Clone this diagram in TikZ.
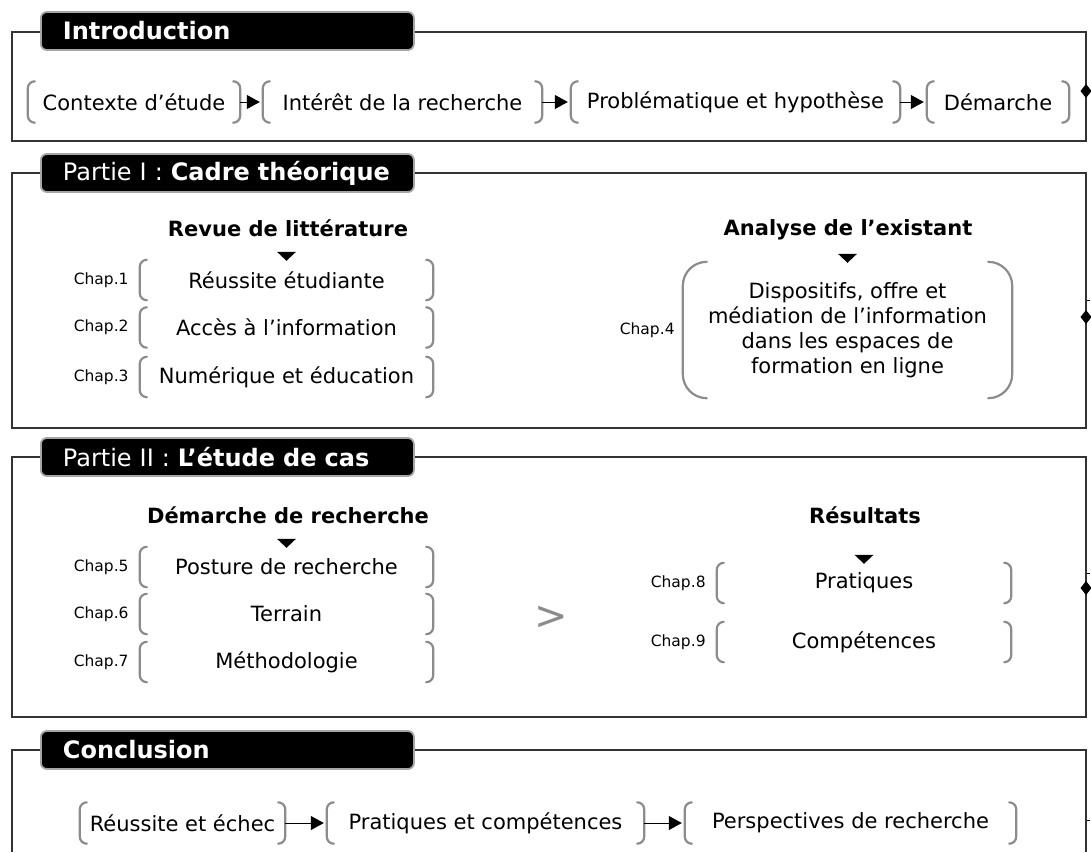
\documentclass[tikz,border=0pt]{standalone}
\usepackage{fontspec}
\setmainfont{DejaVu Sans}
\usetikzlibrary{positioning,arrows.meta}
\definecolor{brkgray}{HTML}{8C8C8C}
\definecolor{tabgray}{HTML}{A6A6A6}
\definecolor{framegray}{HTML}{333333}
\newcommand{\itembrackets}[2][7]{%
	\draw[brkline,rounded corners=#1pt] (#2.north west)++(#1,0)--(#2.north west)--(#2.south west)--++(#1,0);
	\draw[brkline,rounded corners=#1pt] (#2.north east)++(-#1,0)--(#2.north east)--(#2.south east)--++(-#1,0);}
\newcommand{\dropmark}[1]{\fill (#1.north)++(-9.5,-8)--++(19,0)--++(-9.5,9)--cycle;}
\newcommand{\edgemark}[1]{\fill (1086,#1)+(-5.5,0)--+(0,-7)--+(5.5,0)--+(0,7)--cycle;}
\begin{document}
\begin{tikzpicture}[x=1pt,y=-1pt,
		secframe/.style={draw=framegray,line width=1.4pt},
		sectab/.style={fill=black,draw=tabgray,line width=1.8pt,rounded corners=6pt,text=white,anchor=west,
			font=\fontsize{24}{28}\selectfont,minimum height=38pt,text width=329pt,inner xsep=22pt,align=left},
		entry/.style={minimum height=41pt,inner sep=0pt,align=center,font=\fontsize{21}{25}\selectfont},
		chap/.style={inner sep=0pt,font=\fontsize{15.5}{18}\selectfont},
		heading/.style={font=\bfseries\fontsize{21}{25}\selectfont},
		link/.style={-{Triangle[length=13pt,width=14pt]},line width=1pt,shorten >=3pt},
		brkline/.style={draw=brkgray,line width=2.2pt,line cap=round}]
	\useasboundingbox (0,0) rectangle (1091,852);
	% Introduction
	\draw[secframe] (12,32) rectangle (1086,141);
	\node[sectab] (intro) at (40,31) {\textbf{Introduction}};
	\node[entry,minimum width=212pt] (ctx) at (134,102) {Contexte d’étude};
	\node[entry,minimum width=279pt] (inter) at (402.5,102) {Intérêt de la recherche};
	\node[entry,minimum width=329pt] (pb) at (735.5,102) {Problématique et hypothèse};
	\node[entry,minimum width=142pt] (dem) at (998,102) {Démarche};
	\itembrackets{ctx}\itembrackets{inter}\itembrackets{pb}\itembrackets{dem}
	\draw[link] (ctx)--(inter);
	\draw[link] (inter)--(pb);
	\draw[link] (pb)--(dem);
	% Partie I
	\draw[secframe] (12,173) rectangle (1086,428);
	\node[sectab] (part1) at (40,173) {Partie I : \textbf{Cadre théorique}};
	\node[heading] (revue) at (288,228) {Revue de littérature};
	\node[entry,minimum width=293pt,minimum height=40pt] (ch1) at (286.5,280) {Réussite étudiante};
	\node[entry,minimum width=293pt,minimum height=40pt] (ch2) at (286.5,327.5) {Accès à l’information};
	\node[entry,minimum width=293pt,minimum height=40pt] (ch3) at (286.5,377) {Numérique et éducation};
	\node[chap,left=11pt of ch1] (lab1) {Chap.1};
	\node[chap,left=11pt of ch2] (lab2) {Chap.2};
	\node[chap,left=11pt of ch3] (lab3) {Chap.3};
	\itembrackets{ch1}\itembrackets{ch2}\itembrackets{ch3}
	\dropmark{ch1}
	\node[heading] (exist) at (848,230) {Analyse de l’existant};
	\node[entry,minimum width=329pt,minimum height=136pt] (ch4) at (847.5,330)
		{Dispositifs, offre et\\médiation de l’information\\dans les espaces de\\formation en ligne};
	\node[chap,left=8pt of ch4] (lab4) {Chap.4};
	\itembrackets[24]{ch4}
	\dropmark{ch4}
	% Partie II
	\draw[secframe] (12,457) rectangle (1086,717);
	\node[sectab] (part2) at (40,457) {Partie II : \textbf{L’étude de cas}};
	\node[heading] (demr) at (288,515) {Démarche de recherche};
	\node[entry,minimum width=293pt,minimum height=40pt] (ch5) at (286.5,567) {Posture de recherche};
	\node[entry,minimum width=293pt,minimum height=40pt] (ch6) at (286.5,614) {Terrain};
	\node[entry,minimum width=293pt,minimum height=40pt] (ch7) at (286.5,662) {Méthodologie};
	\node[chap,left=11pt of ch5] (lab5) {Chap.5};
	\node[chap,left=11pt of ch6] (lab6) {Chap.6};
	\node[chap,left=11pt of ch7] (lab7) {Chap.7};
	\itembrackets{ch5}\itembrackets{ch6}\itembrackets{ch7}
	\dropmark{ch5}
	\node[text=brkgray,font=\fontsize{40}{40}\selectfont] (then) at (551,618) {>};
	\node[heading] (res) at (865,515) {Résultats};
	\node[entry,minimum width=294pt,minimum height=40pt] (ch8) at (864,583) {Pratiques};
	\node[entry,minimum width=294pt,minimum height=40pt] (ch9) at (864,642) {Compétences};
	\node[chap,left=11pt of ch8] (lab8) {Chap.8};
	\node[chap,left=11pt of ch9] (lab9) {Chap.9};
	\itembrackets{ch8}\itembrackets{ch9}
	\dropmark{ch8}
	% Conclusion
	\draw[secframe] (12,852)--(12,750)--(1086,750)--(1086,852);
	\node[sectab] (concl) at (40,750) {\textbf{Conclusion}};
	\node[entry,minimum width=205pt] (fail) at (182.5,823) {Réussite et échec};
	\node[entry,minimum width=317pt] (skills) at (485.5,823) {Pratiques et compétences};
	\node[entry,minimum width=331pt] (persp) at (850.5,823) {Perspectives de recherche};
	\itembrackets{fail}\itembrackets{skills}\itembrackets{persp}
	\draw[link] (fail)--(skills);
	\draw[link] (skills)--(persp);
	% right edge
	\edgemark{91}\edgemark{317}\edgemark{588}
	\draw[line width=0.8pt] (1087,300)--(1090,300) (1087,573)--(1090,573) (1087,820)--(1090,820);
\end{tikzpicture}
\end{document}
